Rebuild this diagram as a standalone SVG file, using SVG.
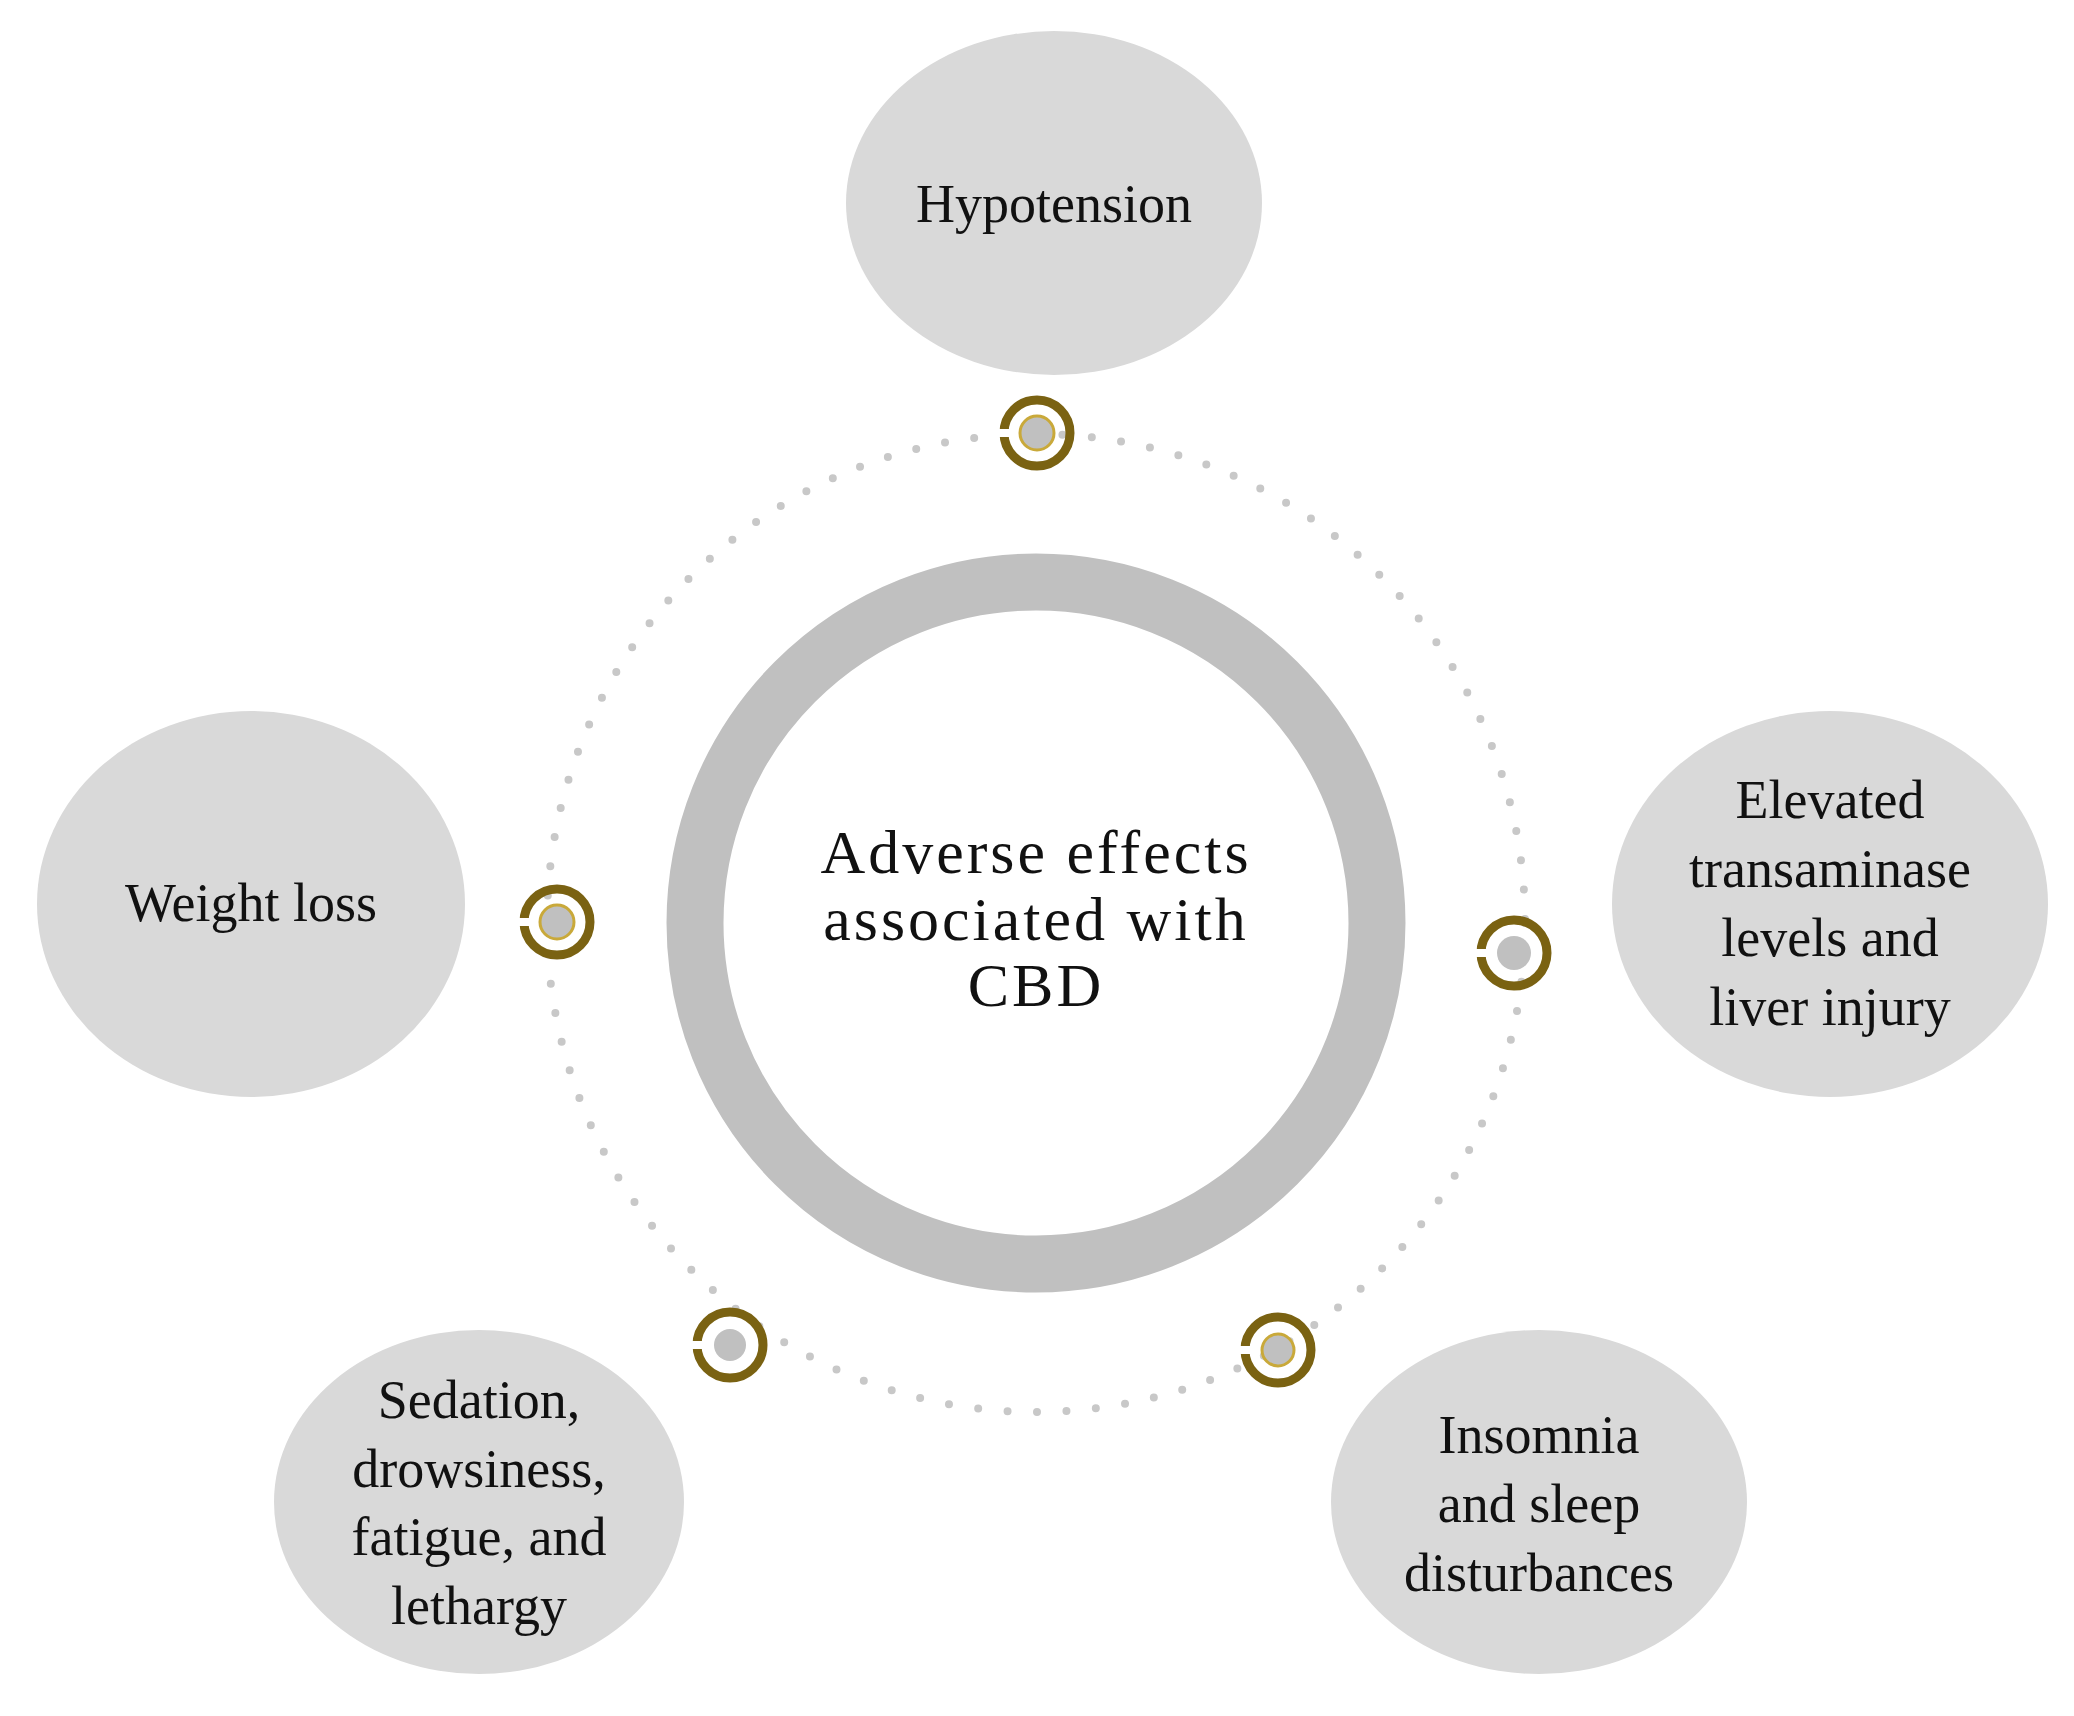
<svg xmlns="http://www.w3.org/2000/svg" width="2074" height="1716" viewBox="0 0 2074 1716">
<defs>
<style>
.node{fill:#d9d9d9}
.t{font-family:"Liberation Serif",serif;font-size:54px;fill:#111;text-anchor:middle}
.c{font-family:"Liberation Serif",serif;font-size:62px;fill:#111;text-anchor:middle;letter-spacing:3px}
.ring{fill:none;stroke:#7a6212;stroke-width:9}
.dot{fill:#c0c0c0}
.gold{stroke:#c9a93a;stroke-width:3}
</style>
<g id="marker">
<circle r="33" class="ring"/>
<rect x="-40" y="-4" width="12" height="8" fill="#fff"/>
</g>
</defs>
<rect width="2074" height="1716" fill="#fff"/>
<g id="connectors">
<circle cx="1036" cy="923" r="489" fill="none" stroke="#c8c8c8" stroke-width="8" stroke-linecap="round" stroke-dasharray="0 29.5"/>
</g>
<g id="center">
<circle cx="1036" cy="923" r="341" fill="#fff" stroke="#c0c0c0" stroke-width="57"/>
<text class="c" x="1036" y="873">Adverse effects</text>
<text class="c" x="1036" y="940">associated with</text>
<text class="c" x="1036" y="1006">CBD</text>
</g>
<g id="hypotension">
<ellipse class="node" cx="1054" cy="203" rx="208" ry="172"/>
<text class="t" x="1054" y="222">Hypotension</text>
</g>
<g id="weight">
<ellipse class="node" cx="251" cy="904" rx="214" ry="193"/>
<text class="t" x="251" y="921">Weight loss</text>
</g>
<g id="elevated">
<ellipse class="node" cx="1830" cy="904" rx="218" ry="193"/>
<text class="t" x="1830" y="818">Elevated</text>
<text class="t" x="1830" y="887">transaminase</text>
<text class="t" x="1830" y="956">levels and</text>
<text class="t" x="1830" y="1025">liver injury</text>
</g>
<g id="sedation">
<ellipse class="node" cx="479" cy="1502" rx="205" ry="172"/>
<text class="t" x="479" y="1418">Sedation,</text>
<text class="t" x="479" y="1487">drowsiness,</text>
<text class="t" x="479" y="1555">fatigue, and</text>
<text class="t" x="479" y="1624">lethargy</text>
</g>
<g id="insomnia">
<ellipse class="node" cx="1539" cy="1502" rx="208" ry="172"/>
<text class="t" x="1539" y="1453">Insomnia</text>
<text class="t" x="1539" y="1522">and sleep</text>
<text class="t" x="1539" y="1591">disturbances</text>
</g>
<g id="markers">
<g transform="translate(1037,433)"><use href="#marker"/><circle r="17" class="dot gold"/></g>
<g transform="translate(557,922)"><use href="#marker"/><circle r="17" class="dot gold"/></g>
<g transform="translate(1514,953)"><use href="#marker"/><circle r="17" class="dot"/></g>
<g transform="translate(730,1345)"><use href="#marker"/><circle r="16" class="dot"/></g>
<g transform="translate(1278,1350)"><use href="#marker"/><circle r="16" class="dot gold"/></g>
</g>
</svg>
